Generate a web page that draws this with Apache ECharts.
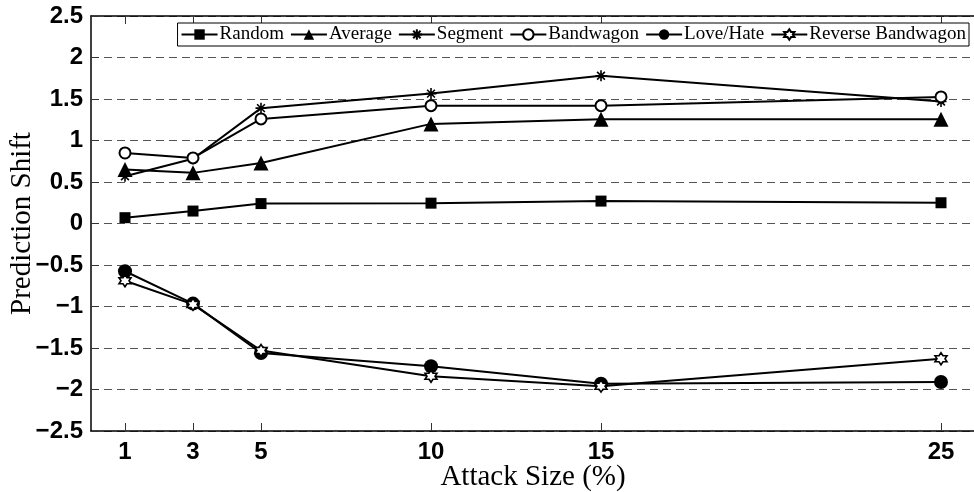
<!DOCTYPE html>
<html>
<head>
<meta charset="utf-8">
<script src="https://cdn.jsdelivr.net/npm/echarts@6/dist/echarts.min.js"></script>
<style>
  html, body { margin: 0; padding: 0; background: #fff; }
  #chart { width: 974px; height: 492px; }
</style>
</head>
<body>
<div id="chart"></div>
<script>
// Attack sizes (%) on the x axis
const attackSizes = [1, 3, 5, 10, 15, 25];
const xTicks = [1, 3, 5, 10, 15, 25];

// Prediction shift per attack model
const random           = [0.07, 0.15, 0.24, 0.245, 0.27, 0.25];
const average          = [0.65, 0.61, 0.73, 1.20, 1.255, 1.255];
const segment          = [0.57, 0.78, 1.39, 1.565, 1.78, 1.47];
const bandwagon        = [0.85, 0.79, 1.26, 1.42, 1.42, 1.525];
const loveHate         = [-0.575, -0.965, -1.56, -1.72, -1.93, -1.91];
const reverseBandwagon = [-0.69, -0.975, -1.53, -1.84, -1.96, -1.63];

const seriesNames = ['Random', 'Average', 'Segment', 'Bandwagon', 'Love/Hate', 'Reverse Bandwagon'];

// marker shapes
const asteriskPath = 'path://M0,-10L0,10M-10,0L10,0M-7.07,-7.07L7.07,7.07M-7.07,7.07L7.07,-7.07';
const hexagramPath = 'path://M0,-100L28.87,-50L86.6,-50L57.7,0L86.6,50L28.87,50L0,100L-28.87,50L-86.6,50L-57.7,0L-86.6,-50L-28.87,-50Z';

const pairs = vals => attackSizes.map((x, i) => [x, vals[i]]);

function lineSeries(name, vals, symbol, size, itemStyle) {
  return {
    name: name,
    type: 'line',
    data: pairs(vals),
    symbol: symbol,
    symbolSize: size,
    showAllSymbol: true,
    lineStyle: { color: '#000', width: 2 },
    itemStyle: Object.assign({ color: '#000', opacity: 1 }, itemStyle || {}),
    emphasis: { disabled: true },
    animation: false
  };
}

const serifFont = '"Liberation Serif", "DejaVu Serif", serif';
const sansBold = '"Liberation Sans", Arial, sans-serif';

const chart = echarts.init(document.getElementById('chart'), null, { renderer: 'canvas' });

chart.setOption({
  backgroundColor: '#fff',
  animation: false,
  grid: { left: 91, top: 16, width: 884, height: 415, containLabel: false, outerBoundsMode: 'none' },
  legend: {
    data: seriesNames,
    right: 5,
    top: 23,
    orient: 'horizontal',
    itemWidth: 36,
    itemHeight: 13,
    itemGap: 6,
    padding: [2, 3, 2, 3],
    borderColor: '#000',
    borderWidth: 1,
    backgroundColor: '#fff',
    textStyle: { fontFamily: serifFont, fontSize: 19, color: '#000', padding: [0, 0, 0, -3] }
  },
  xAxis: [
    {
      type: 'value',
      min: 0,
      max: 26,
      interval: 1,
      position: 'bottom',
      name: 'Attack Size (%)',
      nameLocation: 'middle',
      nameGap: 32,
      nameMoveOverlap: false,
      nameTextStyle: { fontFamily: serifFont, fontSize: 29, color: '#000' },
      axisLine: { show: true, onZero: false, lineStyle: { color: '#000', width: 1.5 } },
      axisTick: { show: true, inside: true, length: 8, customValues: xTicks, lineStyle: { color: '#333' } },
      axisLabel: { customValues: xTicks, fontFamily: sansBold, fontWeight: 'bold', fontSize: 24, color: '#000', margin: 9 },
      splitLine: { show: false }
    },
    {
      type: 'value',
      min: 0,
      max: 26,
      interval: 1,
      position: 'top',
      axisLine: { show: true, onZero: false, lineStyle: { color: '#000', width: 1.5 } },
      axisTick: { show: true, inside: true, length: 8, customValues: xTicks, lineStyle: { color: '#333' } },
      axisLabel: { show: false },
      splitLine: { show: false }
    }
  ],
  yAxis: {
    type: 'value',
    min: -2.5,
    max: 2.5,
    interval: 0.5,
    name: 'Prediction Shift',
    nameLocation: 'middle',
    nameRotate: 90,
    nameGap: 54,
    nameMoveOverlap: false,
    nameTextStyle: { fontFamily: serifFont, fontSize: 29, color: '#000' },
    axisLine: { show: true, lineStyle: { color: '#000', width: 1.5 } },
    axisTick: { show: true, inside: true, length: 8, lineStyle: { color: '#333' } },
    axisLabel: {
      fontFamily: sansBold, fontWeight: 'bold', fontSize: 24, color: '#000', margin: 8,
      formatter: v => String(v).replace('-', '\u2212')
    },
    splitLine: { show: true, lineStyle: { color: '#555', width: 1, type: [8, 5] } }
  },
  series: [
    lineSeries('Random', random, 'rect', 11),
    lineSeries('Average', average, 'triangle', 15),
    lineSeries('Segment', segment, asteriskPath, 11, { borderColor: '#000', borderWidth: 1.6 }),
    lineSeries('Bandwagon', bandwagon, 'emptyCircle', 11, { borderColor: '#000', borderWidth: 1.8 }),
    lineSeries('Love/Hate', loveHate, 'circle', 14),
    lineSeries('Reverse Bandwagon', reverseBandwagon, hexagramPath, 12, { color: '#fff', borderColor: '#000', borderWidth: 1.6 })
  ]
});
</script>
</body>
</html>
